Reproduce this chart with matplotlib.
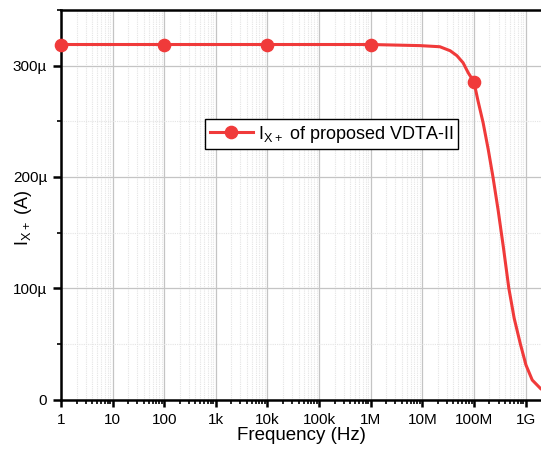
import matplotlib
matplotlib.use("Agg")
import matplotlib.pyplot as plt
from matplotlib.ticker import FixedLocator, FuncFormatter, LogLocator, NullFormatter, MultipleLocator
from matplotlib.lines import Line2D

plt.rcParams['font.family'] = ['Liberation Sans', 'DejaVu Sans']
plt.rcParams['mathtext.default'] = 'regular'

# Frequency response of the X+ terminal current
freq_hz = [1, 100, 1e4, 1e6, 9.1e6, 2.19e7, 3.47e7, 4.68e7, 6.17e7, 7.76e7, 1e8,
           1.2e8, 1.51e8, 1.9e8, 2.34e8, 2.95e8, 3.72e8, 4.75e8, 6.03e8, 7.94e8,
           1.02e9, 1.35e9, 2.0e9]
ix_plus = [319e-6, 319e-6, 319e-6, 319e-6, 318e-6, 317e-6, 313.4e-6, 309e-6, 302.6e-6,
           293.6e-6, 285.5e-6, 268.4e-6, 248.6e-6, 224.4e-6, 200e-6, 170e-6, 137e-6,
           100e-6, 73e-6, 50e-6, 31e-6, 17.5e-6, 9.4e-6]

marker_freqs = [1, 100, 1e4, 1e6, 1e8]

x_ticks = [1, 10, 100, 1e3, 1e4, 1e5, 1e6, 1e7, 1e8, 1e9]
x_tick_labels = ['1', '10', '100', '1k', '10k', '100k', '1M', '10M', '100M', '1G']
y_ticks = [0, 100e-6, 200e-6, 300e-6]
y_tick_labels = ['0', '100µ', '200µ', '300µ']

red = '#F03A3A'

fig = plt.figure(figsize=(5.41, 4.49), dpi=100)
ax = fig.add_axes([0.1128, 0.1102, 0.8872, 0.8675])

mark_idx = [freq_hz.index(f) for f in marker_freqs]
ax.plot(freq_hz, ix_plus, color=red, lw=2.2, marker='o', markersize=8.8,
        markevery=mark_idx, clip_on=False, zorder=3,
        solid_joinstyle='round', solid_capstyle='round')

ax.set_xscale('log')
ax.set_xlim(1, 10 ** 9.3)
ax.set_ylim(0, 350e-6)

ax.xaxis.set_major_locator(FixedLocator(x_ticks))
ax.xaxis.set_major_formatter(FuncFormatter(lambda v, p: x_tick_labels[p] if p is not None and p < len(x_tick_labels) else ''))
ax.xaxis.set_minor_locator(LogLocator(base=10, subs=range(2, 10), numticks=100))
ax.xaxis.set_minor_formatter(NullFormatter())

ax.yaxis.set_major_locator(FixedLocator(y_ticks))
ax.yaxis.set_major_formatter(FuncFormatter(lambda v, p: y_tick_labels[p] if p is not None and p < len(y_tick_labels) else ''))
ax.yaxis.set_minor_locator(MultipleLocator(50e-6))

ax.grid(which='major', color='#c4c4c4', lw=0.9)
ax.grid(which='minor', color='#e4e4e4', lw=0.8, ls=(0, (1, 1)))
ax.set_axisbelow(True)

for s in ['left', 'bottom', 'top']:
    ax.spines[s].set_linewidth(1.8)
ax.spines['right'].set_visible(False)

ax.tick_params(axis='both', which='major', direction='out', length=5, width=1.8,
               labelsize=11, colors='black', pad=4)
ax.tick_params(axis='both', which='minor', direction='out', length=3, width=1.2)
ax.tick_params(top=False, right=False, which='both')
ax.tick_params(axis='x', which='major', pad=5)
ax.tick_params(axis='y', which='major', length=6)

ax.set_xlabel('Frequency (Hz)', fontsize=13.5, labelpad=0)
ax.set_ylabel('I$_{X+}$ (A)', fontsize=13)
ax.yaxis.set_label_coords(-0.056, 0.466)

handle = Line2D([], [], color=red, lw=2.2, marker='o', markersize=8.8)
leg = ax.legend([handle], ['I$_{X+}$ of proposed VDTA-II'], loc='upper left',
                bbox_to_anchor=(0.30, 0.72), fontsize=13, fancybox=False,
                framealpha=1, edgecolor='black', handlelength=2.4,
                borderpad=0.25, handletextpad=0.28, borderaxespad=0)
leg.get_frame().set_linewidth(1.0)

fig.savefig('out.png', dpi=100)
